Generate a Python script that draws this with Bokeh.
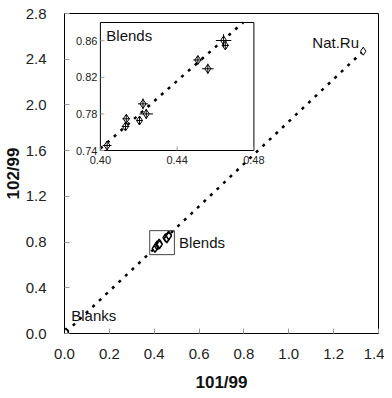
from bokeh.plotting import figure
from bokeh.models import Range1d, FixedTicker, NumeralTickFormatter
from bokeh.embed import file_html
from bokeh.resources import INLINE
from bokeh.core.properties import value

# ---------------- data ----------------
blend_x = [0.4035, 0.4135, 0.4131, 0.4204, 0.4222, 0.4239, 0.4508, 0.4560, 0.4642, 0.4651]
blend_y = [0.7455, 0.7747, 0.7663, 0.7728, 0.7910, 0.7800, 0.8390, 0.8294, 0.8603, 0.8549]
blend_xerr = [0.0023, 0.0020, 0.0020, 0.0015, 0.0026, 0.0035, 0.0023, 0.0030, 0.0040, 0.0017]
blend_yerr = [0.0040, 0.0045, 0.0040, 0.0050, 0.0060, 0.0055, 0.0045, 0.0055, 0.0070, 0.0040]
natru_x = [1.332]
natru_y = [2.470]
blank_x = [0.004, 0.006]
blank_y = [0.010, 0.012]
fit_slope = 1.855
fit_x = [0.008, 1.325]

x_ticks = [0.0, 0.2, 0.4, 0.6, 0.8, 1.0, 1.2, 1.4]
y_ticks = [0.0, 0.4, 0.8, 1.2, 1.6, 2.0, 2.4, 2.8]
inset_x_ticks = [0.40, 0.44, 0.48]
inset_y_ticks = [0.74, 0.78, 0.82, 0.86]
inset_x_labels = ["0.40", "0.44", "0.48"]
inset_y_labels = ["0.74", "0.78", "0.82", "0.86"]
zoom_box = dict(left=0.38, right=0.49, bottom=0.69, top=0.90)

# ---------------- layout constants ----------------
FONT = "Liberation Sans"
W, H = 384, 398
ML, MR, MT, MB = 63, 6, 13, 65
FW, FH = W - ML - MR, H - MT - MB
IX0, IX1, IY0, IY1 = 0.40, 0.48, 0.74, 0.88
INSET_LEFT, INSET_TOP, INSET_W, INSET_H = 36, 9, 154, 128

sx = INSET_W / (IX1 - IX0)
sy = INSET_H / (IY1 - IY0)
ix_start = IX0 - INSET_LEFT / sx
iy_start = IY0 - (FH - INSET_TOP - INSET_H) / sy

p = figure(width=W, height=H, x_range=Range1d(0, 1.4), y_range=Range1d(0, 2.8),
           output_backend="svg", toolbar_location=None,
           min_border_left=ML, min_border_right=MR, min_border_top=MT, min_border_bottom=MB)
p.extra_x_ranges = {"ix": Range1d(ix_start, ix_start + FW / sx)}
p.extra_y_ranges = {"iy": Range1d(iy_start, iy_start + FH / sy)}

p.grid.visible = False
p.outline_line_color = "black"
p.outline_line_width = 1
p.background_fill_color = "white"
p.border_fill_color = "white"

for ax, ticks in ((p.xaxis[0], x_ticks), (p.yaxis[0], y_ticks)):
    ax.ticker = FixedTicker(ticks=ticks)
    ax.formatter = NumeralTickFormatter(format="0.0")
    ax.major_tick_in = 5
    ax.major_tick_out = 0
    ax.major_tick_line_color = "#999999"
    ax.minor_tick_line_color = None
    ax.axis_line_color = "black"
    ax.major_label_text_font = FONT
    ax.major_label_text_font_size = "15px"
    ax.major_label_text_color = "#222222"
    ax.axis_label_text_font = FONT
    ax.axis_label_text_font_size = "17px"
    ax.axis_label_text_font_style = "bold"
    ax.axis_label_text_color = "#111111"

p.xaxis.axis_label = "101/99"
p.yaxis.axis_label = "102/99"
p.xaxis.major_label_standoff = 15
p.xaxis.axis_label_standoff = 11
p.yaxis.major_label_standoff = 18
p.yaxis.axis_label_standoff = 0

# main fit line
p.line(fit_x, [fit_slope * v for v in fit_x], line_color="black", line_width=2.5,
       line_dash="3 6")

# main points
p.scatter(blend_x, blend_y, marker="diamond", size=8, fill_color="white",
          line_color="black", line_width=1.5)
p.scatter(natru_x, natru_y, marker="diamond", size=8, fill_color="white",
          line_color="black", line_width=1)
p.scatter(blank_x, blank_y, marker="diamond", size=8, fill_color="white",
          line_color="black", line_width=1.5)

# zoom box
p.quad(**zoom_box, fill_color=None, line_color="#444444", line_width=1)

# text labels in main
p.text(x=[0.511], y=[0.80], text=["Blends"], text_font=value(FONT), text_font_size="15px",
       text_baseline="middle", text_align="left", text_color="#111111", level="overlay")
p.text(x=[1.105], y=[2.549], text=["Nat.Ru"], text_font=value(FONT), text_font_size="15px",
       text_baseline="middle", text_align="left", text_color="#111111", level="overlay")
p.text(x=[0.030], y=[0.157], text=["Blanks"], text_font=value(FONT), text_font_size="15px",
       text_baseline="middle", text_align="left", text_color="#111111", level="overlay")

# ---------------- inset ----------------
R = dict(x_range_name="ix", y_range_name="iy")
p.quad(left=IX0, right=IX1, bottom=IY0, top=IY1, fill_color="white",
       line_color="black", line_width=1, level="annotation", **R)

ix_end_line = min(IX1, IY1 / fit_slope)
ix_start_line = max(IX0, IY0 / fit_slope)
p.line([ix_start_line, ix_end_line], [fit_slope * ix_start_line, fit_slope * ix_end_line],
       line_color="black", line_width=2.5, line_dash="3 6", level="overlay", **R)

p.scatter(blend_x, blend_y, marker="diamond", size=9, fill_color="white",
          line_color="black", line_width=1, level="overlay", **R)
p.segment(x0=[a - e for a, e in zip(blend_x, blend_xerr)],
          x1=[a + e for a, e in zip(blend_x, blend_xerr)],
          y0=blend_y, y1=blend_y, line_color="black", line_width=1, level="overlay", **R)
p.segment(x0=blend_x, x1=blend_x,
          y0=[a - e for a, e in zip(blend_y, blend_yerr)],
          y1=[a + e for a, e in zip(blend_y, blend_yerr)],
          line_color="black", line_width=1, level="overlay", **R)

TICK = 4
p.segment(x0=inset_x_ticks, x1=inset_x_ticks, y0=[IY0] * len(inset_x_ticks),
          y1=[IY0 + TICK / sy] * len(inset_x_ticks), line_color="#999999",
          level="overlay", **R)
p.segment(x0=[IX0] * len(inset_y_ticks), x1=[IX0 + TICK / sx] * len(inset_y_ticks),
          y0=inset_y_ticks, y1=inset_y_ticks, line_color="#999999", level="overlay", **R)

p.text(x=inset_x_ticks, y=[IY0] * len(inset_x_ticks), text=inset_x_labels,
       text_font=value(FONT), text_font_size="11px", text_align="center",
       text_baseline="top", y_offset=5, text_color="#222222", level="overlay", **R)
p.text(x=[IX0] * len(inset_y_ticks), y=inset_y_ticks, text=inset_y_labels,
       text_font=value(FONT), text_font_size="11px", text_align="right",
       text_baseline="middle", x_offset=-3, text_color="#222222", level="overlay", **R)

p.text(x=[0.4031], y=[0.8658], text=["Blends"], text_font=value(FONT), text_font_size="15px",
       text_baseline="middle", text_align="left", text_color="#111111", level="overlay", **R)

open("out.html", "w").write(file_html(p, INLINE))
